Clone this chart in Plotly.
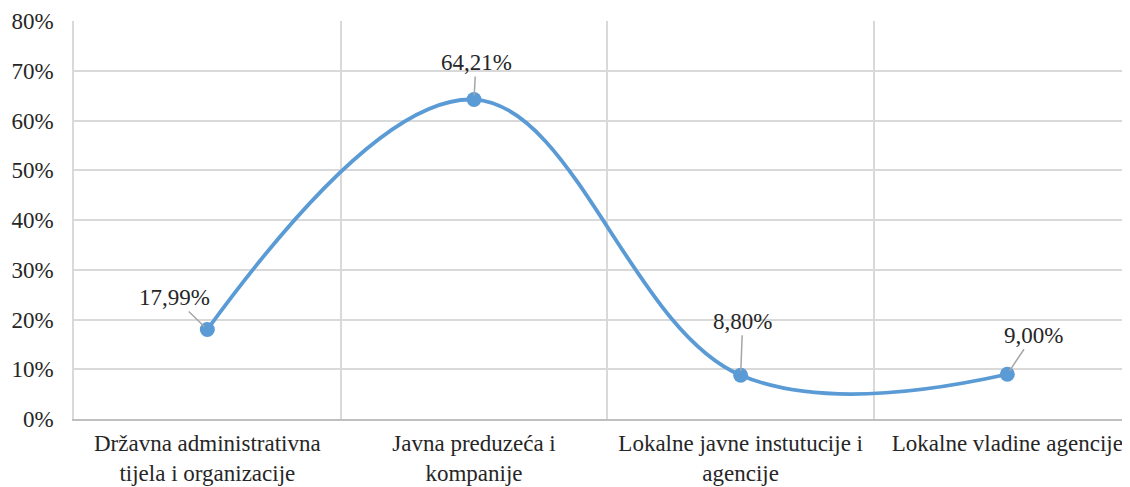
import plotly.graph_objects as go

categories = ["Državna administrativna<br>tijela i organizacije",
              "Javna preduzeća i<br>kompanije",
              "Lokalne javne instutucije i<br>agencije",
              "Lokalne vladine agencije"]
values = [17.99, 64.21, 8.80, 9.00]
labels = ["17,99%", "64,21%", "8,80%", "9,00%"]
label_offsets = [(-33, -32), (2, -37), (2, -54), (26, -39)]

FONT = "Liberation Serif, Times New Roman, serif"
FS = 23
fig = go.Figure()
fig.add_trace(go.Scatter(
    x=categories, y=values, mode="lines+markers",
    line=dict(color="#5B9BD5", width=3.8, shape="spline", smoothing=1.1),
    marker=dict(color="#5B9BD5", size=15),
    showlegend=False, cliponaxis=False,
))
for c, v, t, (ax, ay) in zip(categories, values, labels, label_offsets):
    fig.add_annotation(x=c, y=v, text=t, showarrow=True, arrowhead=0,
                       arrowcolor="#A6A6A6", arrowwidth=1.5, ax=ax, ay=ay,
                       standoff=4,
                       font=dict(family=FONT, size=FS, color="#262626"))

fig.update_layout(
    width=1130, height=487,
    margin=dict(l=66, r=0, t=13, b=76, autoexpand=False),
    paper_bgcolor="white", plot_bgcolor="white",
    font=dict(family=FONT, size=FS, color="#262626"),
    xaxis=dict(type="category", range=[-0.5, 3.49], tickson="boundaries",
               automargin=False,
               showgrid=True, gridcolor="#D9D9D9", gridwidth=1.5,
               ticks="", showline=True, linecolor="#BFBFBF", linewidth=1.5,
               ticklabelstandoff=3,
               tickfont=dict(family=FONT, size=FS, color="#262626")),
    yaxis=dict(range=[0, 80], dtick=10, ticksuffix="%", showgrid=True,
               automargin=False,
               gridcolor="#D9D9D9", gridwidth=1.5, zeroline=False,
               showline=True, linecolor="#D9D9D9", linewidth=1.5,
               ticklabelstandoff=14,
               tickfont=dict(family=FONT, size=FS, color="#262626")),
)
fig.write_html("out.html")
